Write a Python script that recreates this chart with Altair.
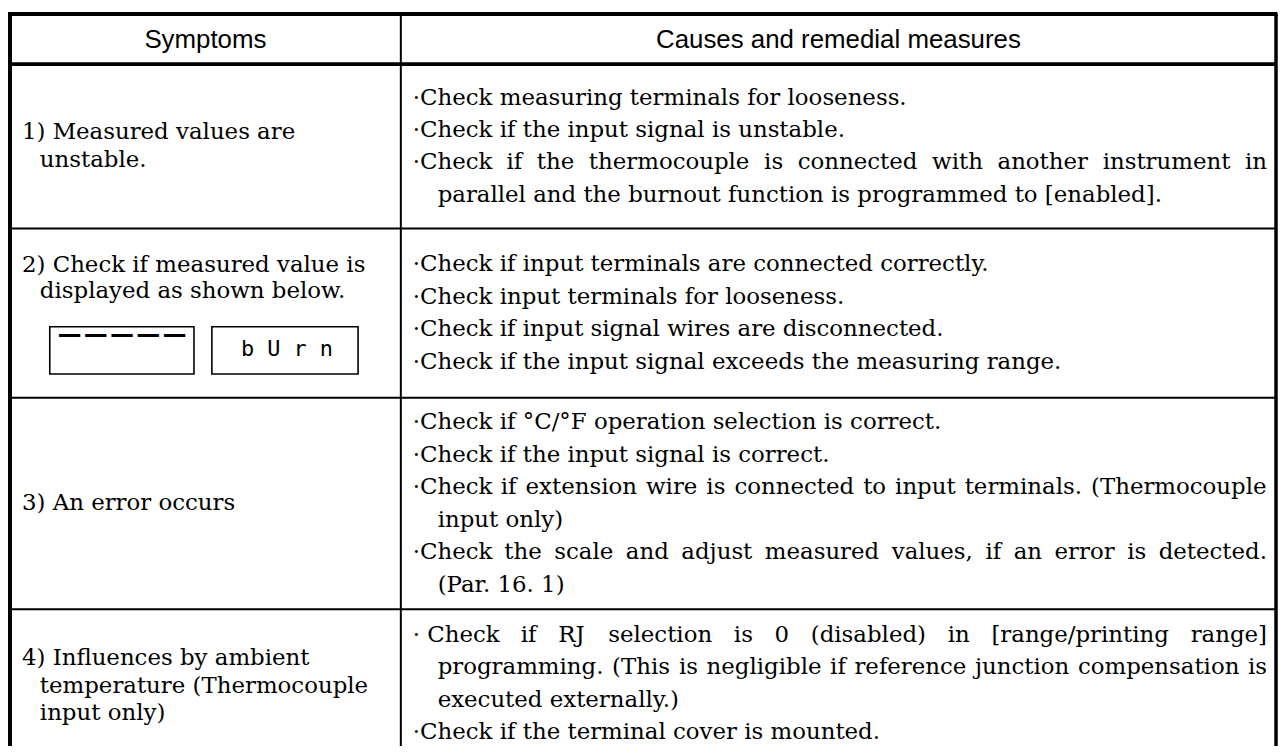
import altair as alt
import pandas as pd

# ---------------- data ----------------
header = ["Symptoms", "Causes and remedial measures"]

symptoms = [
    ["1) Measured values are", "unstable."],
    ["2) Check if measured value is", "displayed as shown below."],
    ["3) An error occurs"],
    ["4) Influences by ambient", "temperature (Thermocouple", "input only)"],
]

causes = [
    ["·Check measuring terminals for looseness.",
     "·Check if the input signal is unstable.",
     "·Check if the thermocouple is connected with another instrument in",
     "parallel and the burnout function is programmed to [enabled]."],
    ["·Check if input terminals are connected correctly.",
     "·Check input terminals for looseness.",
     "·Check if input signal wires are disconnected.",
     "·Check if the input signal exceeds the measuring range."],
    ["·Check if °C/°F operation selection is correct.",
     "·Check if the input signal is correct.",
     "·Check if extension wire is connected to input terminals. (Thermocouple",
     "input only)",
     "·Check the scale and adjust measured values, if an error is detected.",
     "(Par. 16. 1)"],
    ["· Check if RJ selection is 0 (disabled) in [range/printing range]",
     "programming. (This is negligible if reference junction compensation is",
     "executed externally.)",
     "·Check if the terminal cover is mounted."],
]
# lines that are set justified (full width) in the original
justified = [(0, 2), (2, 2), (2, 4), (3, 0), (3, 1)]

display_readings = ["−−−−−", "b U r n"]

# ---------------- layout (reference pixel frame) ----------------
W, H = 1278, 738
X0, Y0 = 8, 8
LEFT, RIGHT, TOP, BOTTOM = 10, 1283, 12, 780
DIV = 403
HEAD_BOTTOM = 63
ROW_EDGES = [HEAD_BOTTOM, 230, 402, 617, 769]
LR = 33   # line spacing, right column
LL = 28   # line spacing, left column
FS = 23
TEXT_RIGHT = 1274

xs = alt.Scale(domain=[X0, X0 + W], range=[0, W], zero=False, nice=False)
ys = alt.Scale(domain=[Y0, 754], range=[0, H], zero=False, nice=False)

# approximate advance widths of DejaVu Serif (em) used to spread justified lines
ADV = dict(zip("abcdefghijklmnopqrstuvwxyz",
               [.596, .640, .560, .640, .592, .370, .640, .644, .320, .310, .609, .320, .948,
                .644, .602, .640, .640, .478, .513, .402, .644, .565, .856, .564, .565, .523]))
ADV.update({" ": .318, "·": .318, ".": .318, ",": .318, "(": .390, ")": .390, "[": .390,
            "]": .390, "/": .337, "°": .500, "C": .733, "R": .770, "J": .472, "T": .685,
            "P": .732, "F": .729})
for d in "0123456789":
    ADV[d] = .636


def text_w(s):
    return sum(ADV.get(ch, .62) for ch in s) * FS


rules = [
    dict(x=LEFT - 2, x2=RIGHT + 1.5, y=TOP, y2=TOP, w=4),
    dict(x=LEFT, x2=LEFT, y=TOP, y2=BOTTOM, w=4),
    dict(x=RIGHT, x2=RIGHT, y=TOP, y2=BOTTOM, w=3.5),
    dict(x=DIV, x2=DIV, y=TOP, y2=BOTTOM, w=2),
    dict(x=LEFT, x2=RIGHT, y=HEAD_BOTTOM, y2=HEAD_BOTTOM, w=4),
]
for e in ROW_EDGES[1:4]:
    rules.append(dict(x=LEFT, x2=RIGHT, y=e, y2=e, w=2))
rules_df = pd.DataFrame(rules)

head_df = pd.DataFrame([
    dict(x=(LEFT + DIV) / 2, y=(TOP + HEAD_BOTTOM) / 2 + 1, text=header[0]),
    dict(x=(DIV + RIGHT) / 2, y=(TOP + HEAD_BOTTOM) / 2 + 1, text=header[1]),
])

body = []
for r, lines in enumerate(causes):
    c = (ROW_EDGES[r] + ROW_EDGES[r + 1]) / 2
    if r == 3:
        c = ROW_EDGES[3] + 26 + 1.5 * LR
    n = len(lines)
    for i, t in enumerate(lines):
        x = DIV + 12 if t.startswith("·") else DIV + 37
        y = c + (i - (n - 1) / 2) * LR
        if (r, i) in justified:
            words = t.split(" ")
            if words[0] == "·":
                words = [words[0] + " " + words[1]] + words[2:]
            ws = [text_w(wd) for wd in words]
            gap = (TEXT_RIGHT - x - sum(ws)) / (len(words) - 1)
            for wd, wdw in zip(words, ws):
                body.append(dict(x=x, y=y, text=wd))
                x += wdw + gap
        else:
            body.append(dict(x=x, y=y, text=t))

for r, lines in enumerate(symptoms):
    c = (ROW_EDGES[r] + ROW_EDGES[r + 1]) / 2
    n = len(lines)
    for i, t in enumerate(lines):
        x = 22 if i == 0 else 40
        if r == 1:
            y = ROW_EDGES[1] + 37 + i * 27
        elif r == 3:
            y = 695 + (i - 1) * LL
        else:
            y = c + (i - (n - 1) / 2) * LL
        body.append(dict(x=x, y=y, text=t))
body_df = pd.DataFrame(body)

box_top, box_bot = 330, 378
boxes_df = pd.DataFrame([
    dict(x=50, x2=195, y=box_top, y2=box_bot),
    dict(x=213, x2=360, y=box_top, y2=box_bot),
])
disp_df = pd.DataFrame([
    dict(x=(50 + 195) / 2, y=box_top + 10, text=display_readings[0]),
    dict(x=(213 + 360) / 2 + 2, y=box_top + 23, text=display_readings[1]),
])

X = lambda f: alt.X(f, type="quantitative", scale=xs, axis=None)
Y = lambda f: alt.Y(f, type="quantitative", scale=ys, axis=None)

rules_layer = alt.Chart(rules_df).mark_rule(color="black").encode(
    x=X("x"), x2="x2", y=Y("y"), y2="y2",
    strokeWidth=alt.StrokeWidth("w:Q", scale=None),
)
boxes_layer = alt.Chart(boxes_df).mark_rect(fill="white", stroke="black", strokeWidth=1.6).encode(
    x=X("x"), x2="x2", y=Y("y"), y2="y2"
)
head_layer = alt.Chart(head_df).mark_text(
    font="Liberation Sans", fontSize=26, color="black", align="center", baseline="middle"
).encode(x=X("x"), y=Y("y"), text="text:N")
body_layer = alt.Chart(body_df).mark_text(
    font="DejaVu Serif", fontSize=FS, color="black", align="left", baseline="middle"
).encode(x=X("x"), y=Y("y"), text="text:N")
disp1 = alt.Chart(disp_df.iloc[[0]]).mark_text(
    font="Liberation Mono", color="black", align="center", baseline="middle", fontSize=44
).encode(x=X("x"), y=Y("y"), text="text:N")
disp2 = alt.Chart(disp_df.iloc[[1]]).mark_text(
    font="DejaVu Sans Mono", color="black", align="center", baseline="middle", fontSize=22
).encode(x=X("x"), y=Y("y"), text="text:N")

chart = alt.layer(rules_layer, boxes_layer, head_layer, body_layer, disp1, disp2).properties(
    width=W, height=H, padding=0, autosize=alt.AutoSizeParams(type="none"),
    background="white",
).configure_view(stroke=None)

chart.save("out.html", embed_options={"renderer": "svg", "actions": False})
